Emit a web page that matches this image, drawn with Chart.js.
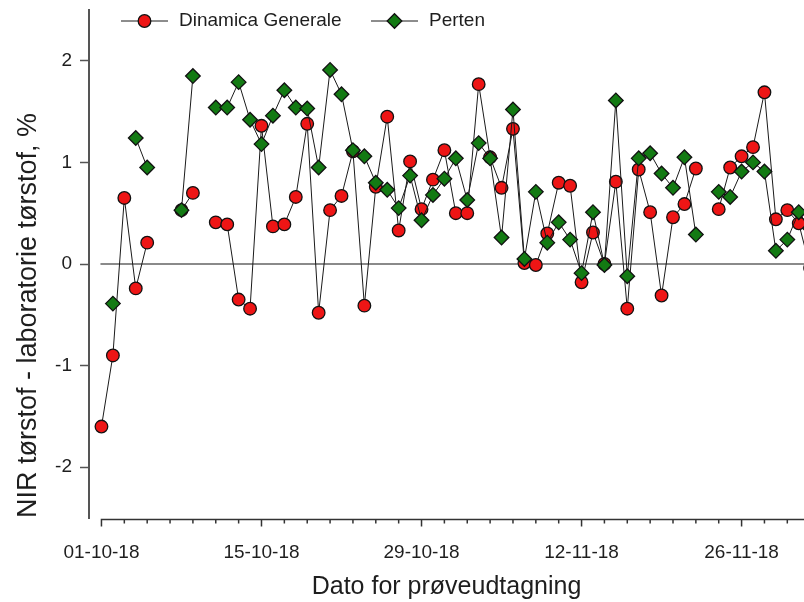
<!DOCTYPE html>
<html>
<head>
<meta charset="utf-8">
<script src="https://cdn.jsdelivr.net/npm/chart.js@4.4.1/dist/chart.umd.min.js"></script>
<style>
html, body { margin: 0; padding: 0; background: #fff; }
</style>
</head>
<body>
<canvas id="Chart1" width="804" height="602"></canvas>
<script>
// days after 01-10-2018
let days = [0,1,2,3,4,5,6,7,8,9,10,11,12,13,14,15,16,17,18,19,20,
            21,22,23,24,25,26,27,28,29,30,31,32,33,34,35,36,37,38,39,40,
            41,42,43,44,45,46,47,48,49,50,51,52,53,54,55,56,57,58,59,60,61,62];

let dinamica = [-1.60,-0.90,0.65,-0.24,0.21,null,null,0.53,0.70,null,0.41,0.39,-0.35,-0.44,1.36,0.37,0.39,0.66,1.38,-0.48,0.53,
                0.67,1.11,-0.41,0.76,1.45,0.33,1.01,0.54,0.83,1.12,0.50,0.50,1.77,1.05,0.75,1.33,0.01,-0.01,0.30,0.80,
                0.77,-0.18,0.31,0.00,0.81,-0.44,0.93,0.51,-0.31,0.46,0.59,0.94,null,0.54,0.95,1.06,1.15,1.69,0.44,0.53,0.40,-0.04];

let perten = [null,-0.39,null,1.24,0.95,null,null,0.53,1.85,null,1.54,1.54,1.79,1.42,1.18,1.46,1.71,1.54,1.53,0.95,1.91,
              1.67,1.12,1.06,0.80,0.73,0.55,0.87,0.43,0.68,0.84,1.04,0.63,1.19,1.04,0.26,1.52,0.05,0.71,0.21,0.41,
              0.24,-0.09,0.51,-0.01,1.61,-0.12,1.04,1.09,0.89,0.75,1.05,0.29,null,0.71,0.66,0.91,1.00,0.91,0.13,0.24,0.51,0.35];

let tickDays = [0,14,28,42,56];
let tickLabels = ["01-10-18","15-10-18","29-10-18","12-11-18","26-11-18"];
let yTicks = [-2,-1,0,1,2];

const FONT = '"Liberation Sans", Arial, sans-serif';
const INK = '#1e1e1e';

let data = {
    datasets: [{
        label: "Dinamica Generale",
        data: days.map((d, i) => ({x: d, y: dinamica[i]})),
        borderColor: '#1a1a1a',
        borderWidth: 1,
        pointStyle: 'circle',
        pointRadius: 6.3,
        pointBorderWidth: 1.3,
        pointBackgroundColor: '#ee1515',
        pointBorderColor: '#111',
        order: 1
    }, {
        label: "Perten",
        data: days.map((d, i) => ({x: d, y: perten[i]})),
        borderColor: '#1a1a1a',
        borderWidth: 1,
        pointStyle: 'rectRot',
        pointRadius: 7.3,
        pointBorderWidth: 1.3,
        pointBackgroundColor: '#137a13',
        pointBorderColor: '#111',
        order: 0
    }]
};

// axis lines, ticks, zero line and legend
const axesPlugin = {
    id: 'axes',
    beforeDatasetsDraw(chart) {
        const {ctx, chartArea, scales: {x, y}} = chart;
        const y0 = y.getPixelForValue(0);
        ctx.save();
        ctx.strokeStyle = '#8a8a8a';
        ctx.lineWidth = 2;
        ctx.beginPath();
        ctx.moveTo(x.getPixelForValue(0) - 1, y0);
        ctx.lineTo(chartArea.right, y0);
        ctx.stroke();
        ctx.restore();
    },
    afterDraw(chart) {
        const {ctx, chartArea, scales: {x}} = chart;
        const base = chartArea.bottom + 1.5;
        ctx.save();
        ctx.strokeStyle = '#333';
        ctx.lineWidth = 1.5;
        ctx.beginPath();
        ctx.moveTo(x.getPixelForValue(0) - 0.75, base);
        ctx.lineTo(chartArea.right, base);
        for (let d = 0; d <= x.max; d += 2) {
            const px = x.getPixelForValue(d);
            const len = tickDays.includes(d) ? 7 : 4;
            ctx.moveTo(px, base);
            ctx.lineTo(px, base + len);
        }
        ctx.stroke();

        // legend
        const items = [{ds: chart.data.datasets[0], x0: 121, ly: 21},
                       {ds: chart.data.datasets[1], x0: 371, ly: 21}];
        ctx.font = '19px ' + FONT;
        ctx.textBaseline = 'middle';
        items.forEach(it => {
            ctx.strokeStyle = '#1a1a1a';
            ctx.lineWidth = 1;
            ctx.beginPath();
            ctx.moveTo(it.x0, it.ly);
            ctx.lineTo(it.x0 + 47, it.ly);
            ctx.stroke();
            ctx.fillStyle = it.ds.pointBackgroundColor;
            ctx.strokeStyle = it.ds.pointBorderColor;
            ctx.lineWidth = it.ds.pointBorderWidth;
            Chart.helpers.drawPoint(ctx, {pointStyle: it.ds.pointStyle, radius: it.ds.pointRadius,
                borderWidth: it.ds.pointBorderWidth, rotation: 0}, it.x0 + 23.5, it.ly);
            ctx.fillStyle = INK;
            ctx.fillText(it.ds.label, it.x0 + 58, it.ly);
        });
        ctx.restore();
    }
};

let config = {
    type: 'line',
    data,
    options: {
        responsive: false,
        animation: false,
        layout: { autoPadding: false, padding: { top: 10, right: 0, left: 0, bottom: 0 } },
        plugins: {
            legend: { display: false },
            tooltip: { enabled: false }
        },
        scales: {
            x: {
                type: 'linear',
                min: -1.09,
                max: 61.46,
                afterFit: s => { s.height = 84; s.paddingLeft = 0; s.paddingRight = 0; },
                afterBuildTicks: s => { s.ticks = tickDays.map(v => ({value: v})); },
                grid: { display: false, drawTicks: false },
                border: { display: false },
                ticks: {
                    autoSkip: false,
                    maxRotation: 0,
                    padding: 23,
                    color: INK,
                    font: { family: FONT, size: 19 },
                    callback: v => tickLabels[tickDays.indexOf(v)]
                },
                title: {
                    display: true,
                    text: "Dato for prøveudtagning",
                    color: INK,
                    font: { family: FONT, size: 25 },
                    padding: { top: 0, bottom: 0 }
                }
            },
            y: {
                min: -2.5,
                max: 2.5,
                afterFit: s => { s.width = 89; s.paddingTop = 0; s.paddingBottom = 0; },
                afterBuildTicks: s => { s.ticks = yTicks.map(v => ({value: v})); },
                grid: { display: true, drawOnChartArea: false, tickLength: 9, tickColor: '#555', tickWidth: 1.5 },
                border: { display: true, color: '#555', width: 2 },
                ticks: {
                    padding: 8,
                    color: INK,
                    font: { family: FONT, size: 19 }
                },
                title: {
                    display: true,
                    align: 'start',
                    text: "NIR tørstof - laboratorie tørstof, %",
                    color: INK,
                    font: { family: FONT, size: 27 },
                    padding: { top: 12, bottom: 0 }
                }
            }
        }
    },
    plugins: [axesPlugin]
};

const myChart = new Chart("Chart1", config);
</script>
</body>
</html>
